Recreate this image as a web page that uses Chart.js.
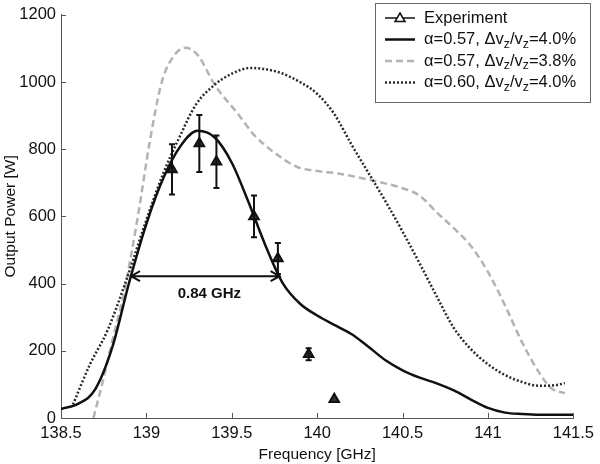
<!DOCTYPE html>
<html>
<head>
<meta charset="utf-8">
<script src="https://cdn.jsdelivr.net/npm/chart.js@4"></script>
<style>
  body { margin: 0; background: #fff; }
  #wrap { width: 600px; height: 464px; }
</style>
</head>
<body>
<div id="wrap"><canvas id="myChart" width="600" height="464"></canvas></div>
<script>
// tick labels
const xTicks = [138.5, 139, 139.5, 140, 140.5, 141, 141.5];
const yTicks = [0, 200, 400, 600, 800, 1000, 1200];

// measured points
const expFreq  = [139.15, 139.31, 139.41, 139.63, 139.77, 139.95, 140.10];
const expPower = [740, 817, 763, 600, 475, 190, 56];
const expErr   = [75, 85, 78, 62, 46, 18, 0];

// alpha=0.57, dv/v=4.0%
const solidFreq  = [138.5, 138.6, 138.7, 138.8, 138.9, 139.0, 139.1, 139.2, 139.3, 139.4, 139.5, 139.6, 139.7, 139.8, 139.9, 140.0, 140.1, 140.2, 140.3, 140.4, 140.5, 140.6, 140.7, 140.8, 140.9, 141.0, 141.1, 141.2, 141.3, 141.4, 141.5];
const solidPower = [27, 42, 85, 210, 405, 578, 715, 810, 855, 835, 760, 640, 510, 400, 340, 305, 277, 250, 212, 172, 142, 120, 103, 82, 55, 30, 16, 12, 10, 10, 10];

// alpha=0.57, dv/v=3.8%
const dashFreq  = [138.69, 138.75, 138.8, 138.87, 138.95, 139.02, 139.09, 139.17, 139.23, 139.3, 139.4, 139.54, 139.63, 139.75, 139.88, 140.0, 140.12, 140.35, 140.5, 140.6, 140.7, 140.8, 140.9, 141.0, 141.1, 141.2, 141.3, 141.37, 141.45];
const dashPower = [0, 120, 229, 377, 600, 823, 1000, 1084, 1102, 1081, 992, 903, 843, 790, 748, 735, 728, 704, 684, 662, 612, 565, 512, 435, 335, 225, 135, 89, 74];

// alpha=0.60, dv/v=4.0%
const dotFreq  = [138.57, 138.67, 138.77, 138.88, 139.0, 139.1, 139.19, 139.29, 139.4, 139.5, 139.61, 139.77, 139.9, 140.0, 140.1, 140.2, 140.3, 140.4, 140.5, 140.6, 140.7, 140.8, 140.9, 141.0, 141.1, 141.2, 141.3, 141.4, 141.45];
const dotPower = [40, 160, 258, 407, 590, 730, 832, 933, 992, 1025, 1042, 1030, 1000, 965, 905, 815, 730, 645, 555, 460, 362, 268, 205, 160, 128, 107, 96, 98, 104];

const legendLabels = ['Experiment', 'α=0.57, Δv_z/v_z=4.0%', 'α=0.57, Δv_z/v_z=3.8%', 'α=0.60, Δv_z/v_z=4.0%'];

// FWHM marker
const fwhmFrom = 138.91;
const fwhmTo = 139.78;
const fwhmLevel = 422;
const fwhmText = '0.84 GHz';

Chart.defaults.font.family = '"Liberation Sans", Arial, sans-serif';
Chart.defaults.color = '#111';

function pts(xs, ys) {
  return xs.map((x, i) => ({ x: x, y: ys[i] }));
}

// draws "v_z" style text with subscripts
function richText(ctx, str, x, y, size) {
  const parts = str.split(/_(.)/);
  for (let i = 0; i < parts.length; i++) {
    const sub = i % 2 == 1;
    ctx.font = (sub ? size * 0.75 : size) + 'px "Liberation Sans", Arial, sans-serif';
    ctx.fillText(parts[i], x, y + (sub ? size * 0.3 : 0));
    x += ctx.measureText(parts[i]).width;
  }
}

const extras = {
  id: 'extras',
  afterDatasetsDraw(chart) {
    const ctx = chart.ctx;
    const xs = chart.scales.x, ys = chart.scales.y;
    const area = chart.chartArea;
    ctx.save();

    // inward ticks
    ctx.strokeStyle = '#555';
    ctx.lineWidth = 1;
    xs.ticks.forEach(t => {
      const px = Math.round(xs.getPixelForValue(t.value)) + 0.5;
      ctx.beginPath(); ctx.moveTo(px, area.bottom); ctx.lineTo(px, area.bottom - 5); ctx.stroke();
    });
    ys.ticks.forEach(t => {
      const py = Math.round(ys.getPixelForValue(t.value)) + 0.5;
      ctx.beginPath(); ctx.moveTo(area.left, py); ctx.lineTo(area.left + 5, py); ctx.stroke();
    });

    // error bars
    ctx.strokeStyle = '#111';
    ctx.lineWidth = 2;
    expFreq.forEach((f, i) => {
      if (!expErr[i]) return;
      const px = xs.getPixelForValue(f);
      const top = ys.getPixelForValue(expPower[i] + expErr[i]);
      const bot = ys.getPixelForValue(expPower[i] - expErr[i]);
      ctx.beginPath();
      ctx.moveTo(px, top); ctx.lineTo(px, bot);
      ctx.moveTo(px - 3, top); ctx.lineTo(px + 3, top);
      ctx.moveTo(px - 3, bot); ctx.lineTo(px + 3, bot);
      ctx.stroke();
    });

    // FWHM arrow
    const ax1 = xs.getPixelForValue(fwhmFrom), ax2 = xs.getPixelForValue(fwhmTo);
    const ay = ys.getPixelForValue(fwhmLevel);
    ctx.lineWidth = 2;
    ctx.beginPath();
    ctx.moveTo(ax1, ay); ctx.lineTo(ax2, ay);
    ctx.moveTo(ax1 + 9, ay - 5); ctx.lineTo(ax1, ay); ctx.lineTo(ax1 + 9, ay + 5);
    ctx.moveTo(ax2 - 9, ay - 5); ctx.lineTo(ax2, ay); ctx.lineTo(ax2 - 9, ay + 5);
    ctx.stroke();
    ctx.font = 'bold 15px "Liberation Sans", Arial, sans-serif';
    ctx.fillStyle = '#111';
    ctx.textAlign = 'center';
    ctx.textBaseline = 'middle';
    ctx.fillText(fwhmText, (ax1 + ax2) / 2 + 4, ay + 18);

    // legend
    const lx = 375, ly = 3, lw = 215, lh = 99;
    ctx.fillStyle = '#fff';
    ctx.fillRect(lx, ly, lw, lh);
    ctx.strokeStyle = '#666';
    ctx.lineWidth = 1;
    ctx.strokeRect(lx + 0.5, ly + 0.5, lw, lh);
    ctx.textAlign = 'left';
    ctx.textBaseline = 'middle';
    chart.data.datasets.forEach((ds, i) => {
      const y = 18 + i * 21.5;
      ctx.save();
      ctx.strokeStyle = ds.borderColor;
      ctx.lineWidth = i == 0 ? 1.5 : ds.borderWidth;
      ctx.setLineDash(ds.borderDash || []);
      ctx.beginPath(); ctx.moveTo(385, y); ctx.lineTo(415, y); ctx.stroke();
      ctx.restore();
      if (i == 0) {
        ctx.beginPath();
        ctx.moveTo(400, y - 5); ctx.lineTo(405, y + 3.5); ctx.lineTo(395, y + 3.5); ctx.closePath();
        ctx.fillStyle = '#fff'; ctx.fill();
        ctx.strokeStyle = '#111'; ctx.lineWidth = 1.5; ctx.stroke();
      }
      ctx.fillStyle = '#111';
      richText(ctx, legendLabels[i], 424, y, 16.5);
    });
    ctx.restore();
  }
};

const GraphPower = document.getElementById('myChart');
const Power = new Chart(GraphPower, {
  type: 'line',
  data: {
    datasets: [{
      label: legendLabels[0],
      data: pts(expFreq, expPower),
      showLine: false,
      pointStyle: 'triangle',
      pointRadius: 5.5,
      pointBorderWidth: 2,
      pointBackgroundColor: '#333',
      pointBorderColor: '#111',
      borderColor: '#111',
      order: 0
    }, {
      label: legendLabels[1],
      data: pts(solidFreq, solidPower),
      borderColor: '#111',
      borderWidth: 2.5,
      pointRadius: 0,
      cubicInterpolationMode: 'monotone',
      order: 1
    }, {
      label: legendLabels[2],
      data: pts(dashFreq, dashPower),
      borderColor: '#b3b3b3',
      borderWidth: 2.5,
      borderDash: [7, 4],
      pointRadius: 0,
      cubicInterpolationMode: 'monotone',
      order: 3
    }, {
      label: legendLabels[3],
      data: pts(dotFreq, dotPower),
      borderColor: '#2a2a2a',
      borderWidth: 2.5,
      borderDash: [2, 2],
      pointRadius: 0,
      cubicInterpolationMode: 'monotone',
      order: 2
    }]
  },
  options: {
    responsive: false,
    animation: false,
    layout: { padding: { top: 13, right: 21, left: 0, bottom: 0 } },
    plugins: {
      legend: { display: false },
      tooltip: { enabled: false }
    },
    scales: {
      x: {
        type: 'linear',
        min: 138.5,
        max: 141.5,
        afterBuildTicks: s => { s.ticks = xTicks.map(v => ({ value: v })); },
        afterFit: s => { s.height = 46; },
        grid: { drawOnChartArea: false, drawTicks: false },
        border: { color: '#555', width: 1 },
        ticks: { font: { size: 16.5 }, padding: 6, maxRotation: 0, callback: v => String(v) },
        title: { display: true, text: 'Frequency [GHz]', font: { size: 15.5 }, padding: { top: 0, bottom: 0 } }
      },
      y: {
        min: 0,
        max: 1200,
        afterBuildTicks: s => { s.ticks = yTicks.map(v => ({ value: v })); },
        afterFit: s => { s.width = 61; },
        grid: { drawOnChartArea: false, drawTicks: false },
        border: { color: '#555', width: 1 },
        ticks: { font: { size: 16.5 }, padding: 5, callback: v => String(v) },
        title: { display: true, text: 'Output Power [W]', font: { size: 15.5 }, padding: { top: 1, bottom: 0 } }
      }
    }
  },
  plugins: [extras]
});
</script>
</body>
</html>
